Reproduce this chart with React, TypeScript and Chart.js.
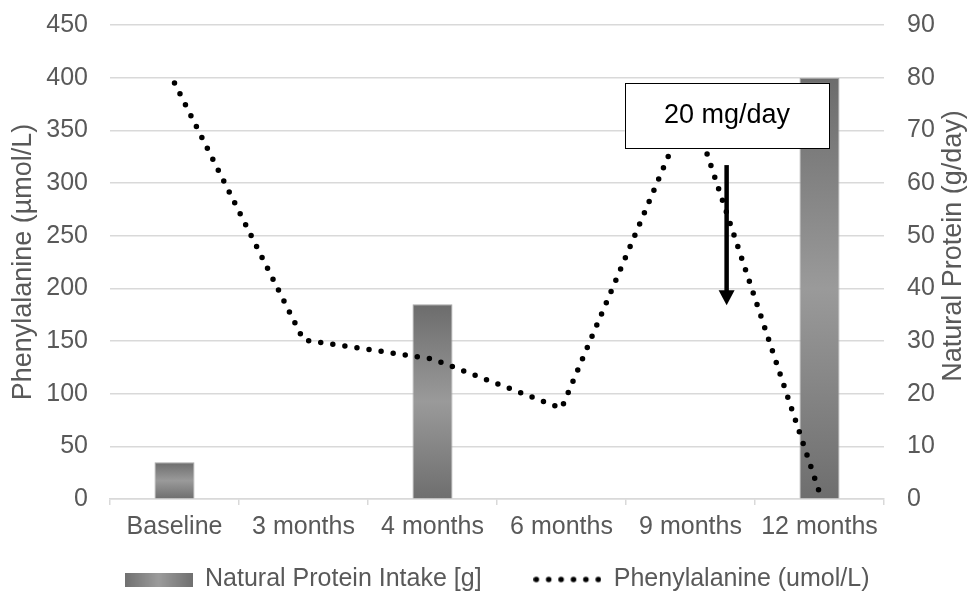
import React, { useEffect, useRef } from 'react';
import { Chart, registerables } from 'chart.js';

Chart.register(...registerables);

// ---------- data ----------
const categories = ['Baseline', '3 months', '4 months', '6 months', '9 months', '12 months'];
const proteinIntake: (number | null)[] = [7, null, 37, null, null, 80];
const phenylalanine: number[] = [395, 151, 133, 86, 375, 6];

const leftMin = 0;
const leftMax = 450;
const leftStep = 50;
const rightMin = 0;
const rightMax = 90;
const rightStep = 10;

const leftTitle = 'Phenylalanine (µmol/L)';
const rightTitle = 'Natural Protein (g/day)';
const barLabel = 'Natural Protein Intake [g]';
const lineLabel = 'Phenylalanine (umol/L)';

// annotation, in data coordinates (category index / left-axis value)
const noteText = '20 mg/day';
const noteBox = { xFrom: 3.49, xTo: 5.075, yFrom: 333, yTo: 395 };
const noteArrow = { x: 4.28, yFrom: 317, yTo: 184 };

// ---------- styles ----------
const FONT = '"Liberation Sans", Arial, sans-serif';
const TEXT = '#595959';
const GRID = '#d9d9d9';

function makePatch(): HTMLCanvasElement {
  const c = document.createElement('canvas');
  c.width = 68;
  c.height = 14;
  const g = c.getContext('2d')!;
  const gr = g.createLinearGradient(0, 0, 68, 0);
  gr.addColorStop(0, '#707070');
  gr.addColorStop(0.5, '#9c9c9c');
  gr.addColorStop(1, '#707070');
  g.fillStyle = gr;
  g.fillRect(0, 0, 68, 14);
  return c;
}

function makeDots(): HTMLCanvasElement {
  const c = document.createElement('canvas');
  c.width = 68;
  c.height = 8;
  const g = c.getContext('2d')!;
  g.fillStyle = '#000';
  for (let i = 0; i < 6; i++) {
    g.beginPath();
    g.arc(3 + i * 12.4, 4, 2.8, 0, Math.PI * 2);
    g.fill();
  }
  return c;
}

const overlayPlugin = {
  id: 'overlay',
  afterDatasetsDraw(chart: any) {
    const { ctx, chartArea } = chart;
    const x = chart.scales.x;
    const y = chart.scales.y;
    ctx.save();
    // annotation box
    const bx1 = x.getPixelForValue(noteBox.xFrom);
    const bx2 = x.getPixelForValue(noteBox.xTo);
    const by1 = y.getPixelForValue(noteBox.yTo);
    const by2 = y.getPixelForValue(noteBox.yFrom);
    ctx.fillStyle = '#ffffff';
    ctx.fillRect(bx1, by1, bx2 - bx1, by2 - by1);
    ctx.strokeStyle = '#000';
    ctx.lineWidth = 1;
    ctx.strokeRect(Math.round(bx1) + 0.5, Math.round(by1) + 0.5, Math.round(bx2 - bx1), Math.round(by2 - by1));
    ctx.fillStyle = '#000';
    ctx.font = `27px ${FONT}`;
    ctx.textAlign = 'center';
    ctx.textBaseline = 'middle';
    ctx.fillText(noteText, (bx1 + bx2) / 2, (by1 + by2) / 2);
    // arrow
    const ax = x.getPixelForValue(noteArrow.x);
    const ay1 = y.getPixelForValue(noteArrow.yFrom);
    const ay2 = y.getPixelForValue(noteArrow.yTo);
    const headH = 15;
    const headW = 16;
    ctx.strokeStyle = '#000';
    ctx.lineWidth = 4.5;
    ctx.beginPath();
    ctx.moveTo(ax, ay1);
    ctx.lineTo(ax, ay2 - headH + 1);
    ctx.stroke();
    ctx.beginPath();
    ctx.moveTo(ax - headW / 2, ay2 - headH);
    ctx.lineTo(ax + headW / 2, ay2 - headH);
    ctx.lineTo(ax, ay2);
    ctx.closePath();
    ctx.fill();
    // right axis title (reads bottom-to-top)
    ctx.translate(chart.width - 18, (chartArea.top + chartArea.bottom) / 2 - 16);
    ctx.rotate(-Math.PI / 2);
    ctx.fillStyle = TEXT;
    ctx.font = `27px ${FONT}`;
    ctx.fillText(rightTitle, 0, 0);
    ctx.restore();
  },
};

export default function App() {
  const ref = useRef<HTMLCanvasElement | null>(null);

  useEffect(() => {
    if (!ref.current) return;
    Chart.defaults.font.family = FONT;
    const patch = makePatch();
    const dots = makeDots();

    const barColor = (ctx: any) => {
      const chart = ctx.chart;
      const v = ctx.raw;
      const s = chart.scales.yR;
      if (!chart.chartArea || !s || typeof v !== 'number') return '#858585';
      const top = s.getPixelForValue(v);
      const bottom = s.getPixelForValue(0);
      if (!isFinite(top) || !isFinite(bottom) || bottom - top < 1) return '#858585';
      const g = chart.ctx.createLinearGradient(0, top, 0, bottom);
      g.addColorStop(0, '#6c6c6c');
      g.addColorStop(0.5, '#9a9a9a');
      g.addColorStop(1, '#6e6e6e');
      return g;
    };

    const chart = new Chart(ref.current, {
      type: 'bar',
      data: {
        labels: categories,
        datasets: [
          {
            type: 'bar',
            label: barLabel,
            data: proteinIntake,
            yAxisID: 'yR',
            order: 1,
            backgroundColor: barColor,
            borderColor: '#a6a6a6',
            borderWidth: 1,
            barPercentage: 0.31,
            categoryPercentage: 1,
          } as any,
          {
            type: 'line',
            label: lineLabel,
            data: phenylalanine,
            yAxisID: 'y',
            order: 0,
            borderColor: '#000',
            borderWidth: 5.5,
            borderDash: [0, 12.2],
            borderCapStyle: 'round',
            pointRadius: 0,
            tension: 0,
            fill: false,
          } as any,
        ],
      },
      options: {
        responsive: false,
        animation: false,
        events: [],
        layout: { padding: { top: 25, left: 0, right: 0, bottom: 0 } },
        plugins: {
          tooltip: { enabled: false },
          legend: {
            position: 'bottom',
            fullSize: false,
            maxHeight: 36,
            labels: {
              usePointStyle: true,
              pointStyleWidth: 68,
              padding: 10,
              color: TEXT,
              font: { size: 25, family: FONT },
              generateLabels: () => [
                {
                  text: barLabel + '      ',
                  fillStyle: '#888',
                  strokeStyle: '#888',
                  lineWidth: 0,
                  pointStyle: patch,
                  hidden: false,
                  datasetIndex: 0,
                  fontColor: TEXT,
                } as any,
                {
                  text: lineLabel,
                  fillStyle: '#000',
                  strokeStyle: '#000',
                  lineWidth: 0,
                  pointStyle: dots,
                  hidden: false,
                  datasetIndex: 1,
                  fontColor: TEXT,
                } as any,
              ],
            },
          } as any,
        },
        scales: {
          x: {
            offset: true,
            ticks: { color: TEXT, font: { size: 25 }, padding: 7, maxRotation: 0, autoSkip: false },
            grid: { drawOnChartArea: false, drawTicks: true, tickLength: 6, color: GRID, lineWidth: 1.5 },
            border: { display: true, color: GRID, width: 1.5 },
            afterFit: (s: any) => { s.height = 58; },
          },
          y: {
            position: 'left',
            min: leftMin,
            max: leftMax,
            ticks: { stepSize: leftStep, padding: 0, color: TEXT, font: { size: 25 } },
            grid: { color: GRID, lineWidth: 1.5, drawTicks: true, tickLength: 22, tickColor: 'rgba(0,0,0,0)' },
            border: { display: false },
            title: { display: true, text: leftTitle, color: TEXT, font: { size: 27 }, padding: { top: 7, bottom: 0 } },
            afterFit: (s: any) => { s.width = 110; },
          },
          yR: {
            position: 'right',
            min: rightMin,
            max: rightMax,
            ticks: { stepSize: rightStep, padding: 0, color: TEXT, font: { size: 25 } },
            grid: { drawOnChartArea: false, drawTicks: true, tickLength: 23, tickColor: 'rgba(0,0,0,0)' },
            border: { display: false },
            afterFit: (s: any) => { s.width = 88; },
          },
        },
      } as any,
      plugins: [overlayPlugin],
    });
    return () => chart.destroy();
  }, []);

  return (
    <div style={{ position: 'fixed', left: 0, top: 0, width: 972, height: 593, background: '#fff' }}>
      <canvas ref={ref} width={972} height={593} style={{ display: 'block' }} />
    </div>
  );
}
